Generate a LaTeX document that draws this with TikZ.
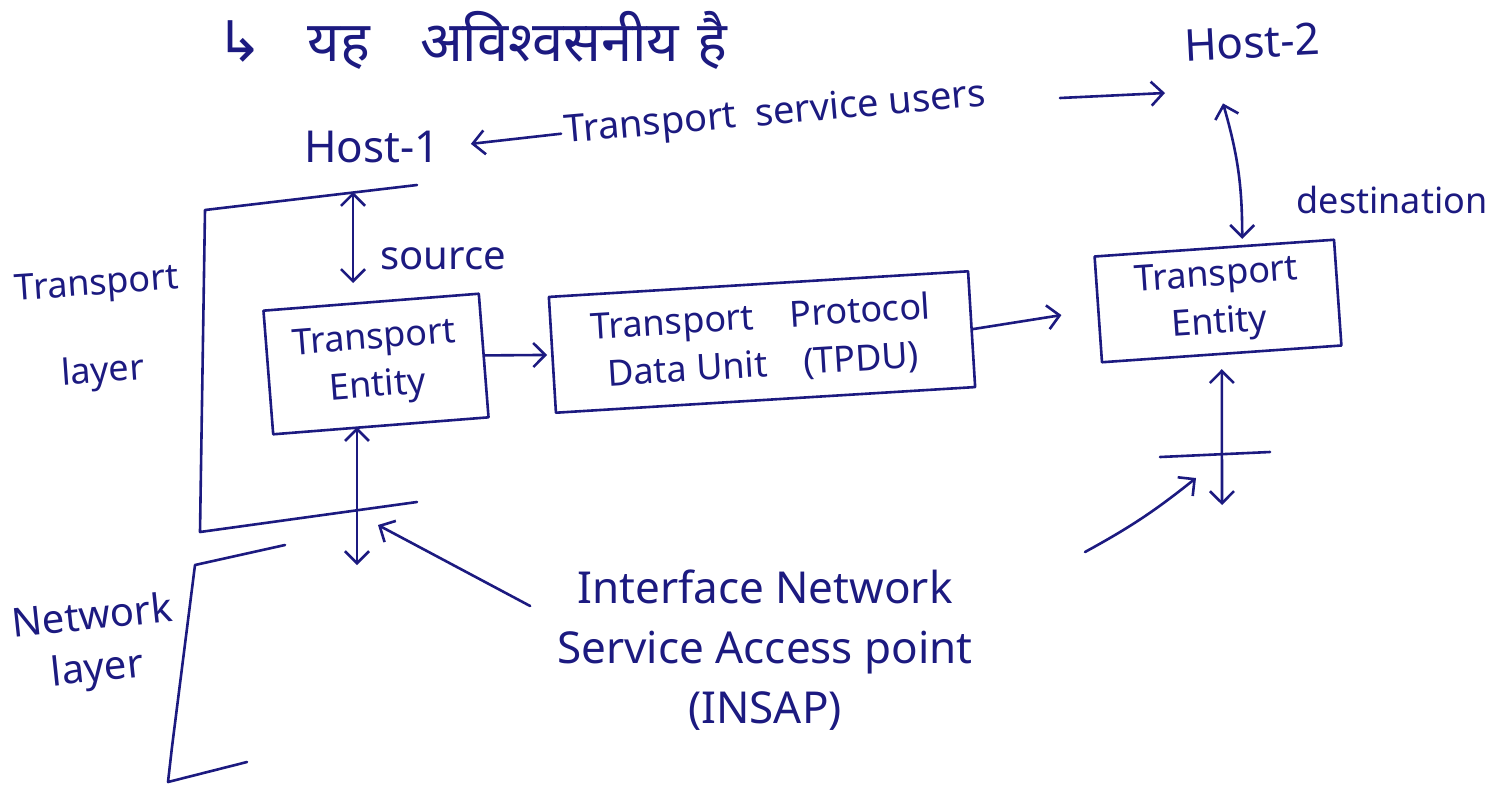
\documentclass[tikz,border=0pt]{standalone}
\usepackage{fontspec}
\setmainfont{Noto Sans}
\newfontfamily\deva[Script=Devanagari]{Noto Sans}
\newfontfamily\symb{DejaVu Sans}
\usepackage{tikz}
\usetikzlibrary{arrows.meta,positioning,calc}
\definecolor{ink}{RGB}{28,26,128}
\tikzset{
	hand/.style={draw=ink,line width=1.3pt,line cap=round,line join=round},
	word/.style={text=ink,inner sep=1pt,align=center,
		font=\fontsize{18}{24}\selectfont},
	big word/.style={word,font=\fontsize{22}{30}\selectfont},
	entity/.style={word,draw=ink,line width=1.3pt,inner sep=4pt}
}

\begin{document}
\begin{tikzpicture}[x=0.5pt,y=-0.5pt,hand,>={Straight Barb[length=6pt,width=12pt]}]
  \useasboundingbox (0,0) rectangle (1510,787);
  % hosts and the service users
  \node [big word,font=\fontsize{28}{32}\selectfont] (note) at (472,40) {{\symb ↳}\hspace{22pt}{\deva यह}\hspace{25pt}{\deva अविश्वसनीय}\hspace{9pt}{\deva है}};
  \node [big word,rotate=3] (HostB) at (1252,42) {Host-2};
  \node [big word] (HostA) at (372,147) {Host-1};
  \node [word,rotate=5,font=\fontsize{19}{24}\selectfont] (users) at (775,115) {Transport\enspace service users};
  \coordinate (usersR) at (1060,98);
  \coordinate (usersEnd) at (1165,93);
  \draw[->,shorten >=14pt] (users.west) -- (HostA.east);
  \draw[->] (usersR) -- (usersEnd);
  % transport layer bracket
  \draw (417,185) -- (205,210) -- (200,532) -- (417,502);
  \node [word,rotate=4] (TL) at (100,330) {Transport\\[20pt]layer};
  % the three boxes
  \node [entity,minimum width=108pt,minimum height=62pt,rotate=4.5] (EntA) at (376,364) {Transport\\Entity};
  \node [entity,minimum width=210pt,minimum height=58pt,rotate=3.5] (TPDU) at (762,342) {Transport\quad Protocol\\Data Unit\quad (TPDU)};
  \node [entity,minimum width=120pt,minimum height=53pt,rotate=4] (EntB) at (1218,301) {Transport\\Entity};
  \draw[->,shorten >=2pt] (EntA.east) -- (TPDU.west);
  \draw[->,shorten >=18pt] (TPDU.east) -- (EntB.west);
  % source side
  \coordinate (srcA) at (353,192);
  \coordinate (srcB) at (353,283);
  \draw[<->] (srcA) -- (srcB);
  \node [word,font=\fontsize{20}{24}\selectfont,right=12pt of srcB,yshift=12pt] (src) {source};
  % destination side
  \draw[<->] ([xshift=-15pt,yshift=-21pt]HostB.south) to[bend left=8] ([xshift=14pt,yshift=4pt]EntB.north);
  \node [word] (dest) at (1392,200) {destination};
  % network layer bracket
  \draw (285,545) -- (195,565) -- (172,747) -- (168,782) -- (247,762);
  \node [word,font=\fontsize{20}{26}\selectfont,rotate=6] (NL) at (95,645) {Network\\layer};
  % access points
  \coordinate (sapA) at (357,565);
  \coordinate (hitA) at (378,525);
  \draw[<->] (EntA.south -| sapA) -- (sapA);
  \coordinate (sapB) at (1222,505);
  \coordinate (hitB) at (1196,478);
  \coordinate (ptrB) at (1085,552);
  \draw[<->,shorten <=7pt] (EntB.south) -- (sapB);
  \draw (1160,457) -- (1270,452);
  \node [big word] (insap) at (765,650) {Interface Network\\Service Access point\\(INSAP)};
  \draw[->] ([shift={(-12pt,22pt)}]insap.west) -- (hitA);
  \draw[->] (ptrB) to[bend right=5] (hitB);
\end{tikzpicture}
\end{document}
